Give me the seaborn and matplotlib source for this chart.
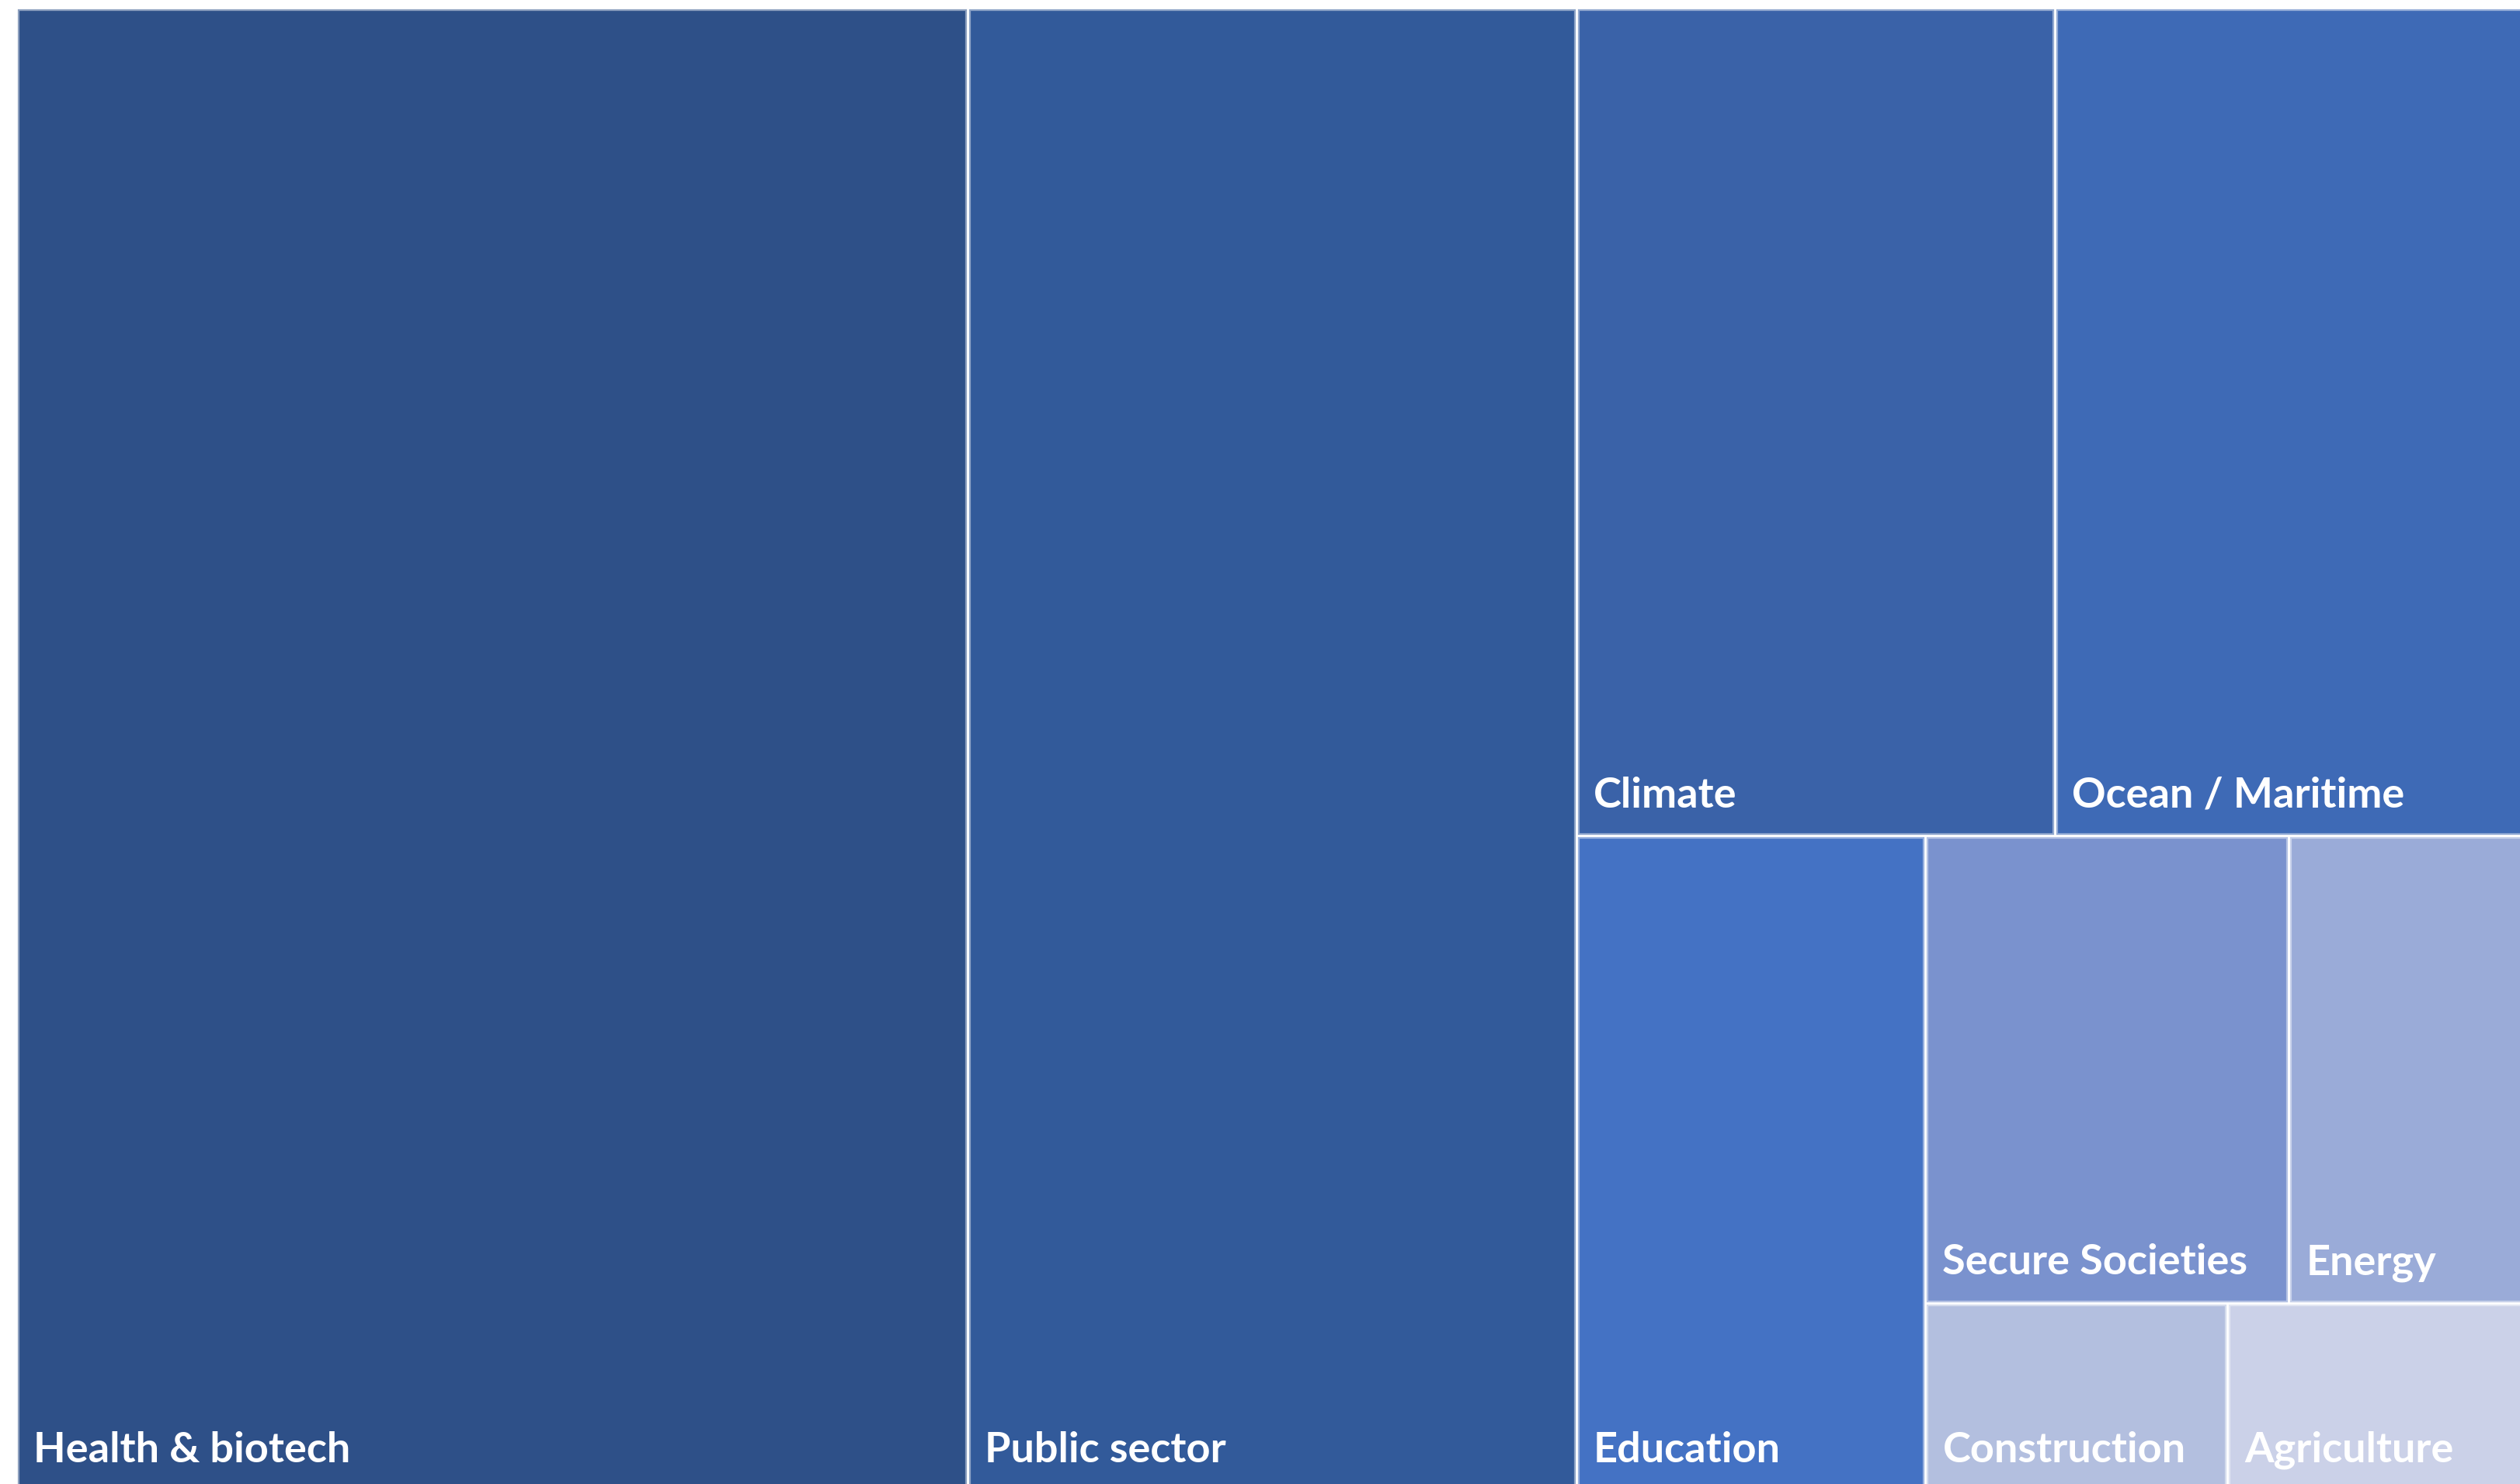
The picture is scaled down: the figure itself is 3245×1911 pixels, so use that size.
import numpy as np
import matplotlib
matplotlib.use("Agg")
import matplotlib.pyplot as plt
import matplotlib.colors as mcolors
from matplotlib.patches import Rectangle
import seaborn as sns

# Treemap data (relative size of each sector)
categories = ["Health & biotech", "Public sector", "Climate", "Ocean / Maritime",
              "Education", "Secure Societies", "Energy", "Construction", "Agriculture"]
values = [2340, 1497, 657, 657, 379, 282, 189, 94, 95]
colors = ["#2E5088", "#325A9A", "#3A62A8", "#3E6AB6", "#4472C4",
          "#7A92CE", "#9AABD8", "#B3BFDF", "#CBD1E8"]

# nesting of the tiles: 'h' = side by side, 'v' = stacked
layout = ("h", [0, 1, ("v", [("h", [2, 3]),
                             ("h", [4, ("v", [("h", [5, 6]), ("h", [7, 8])])])])])

sns.set_theme(style="white")
plt.rcParams["font.family"] = ["Lato", "DejaVu Sans"]

W, H = 3241, 1910  # plot area in pixels


def weight(node):
    if isinstance(node, int):
        return values[node]
    return sum(weight(k) for k in node[1])


def split(node, x, y, w, h, out):
    if isinstance(node, int):
        out[node] = (x, y, w, h)
        return
    direction, kids = node
    tot = weight(node)
    pos = 0.0
    for k in kids:
        frac = weight(k) / tot
        if direction == "h":
            split(k, x + pos * w, y, frac * w, h, out)
        else:
            split(k, x, y + pos * h, w, frac * h, out)
        pos += frac


rects = {}
split(layout, 0, 0, W, H, rects)

fig = plt.figure(figsize=(32.45, 19.11), dpi=100)
fig.patch.set_facecolor("white")
ax = fig.add_axes([21 / 3245, (1911 - 1920) / 1911, W / 3245, H / 1911])
ax.set_xlim(0, W)
ax.set_ylim(H, 0)
ax.axis("off")

inset = 2.5
for i, name in enumerate(categories):
    x, y, w, h = rects[i]
    face = np.array(mcolors.to_rgb(colors[i]))
    edge = face * 0.55 + 0.45
    ax.add_patch(Rectangle((x + inset, y + inset), w - 2 * inset, h - 2 * inset,
                           facecolor=face, edgecolor=edge, linewidth=1.6))
    ax.annotate(name, xy=(x, y + h), xytext=(22, 37), textcoords="offset pixels",
                color="white", fontsize=39, fontweight="bold",
                ha="left", va="baseline")

fig.savefig("out.png", dpi=100)
